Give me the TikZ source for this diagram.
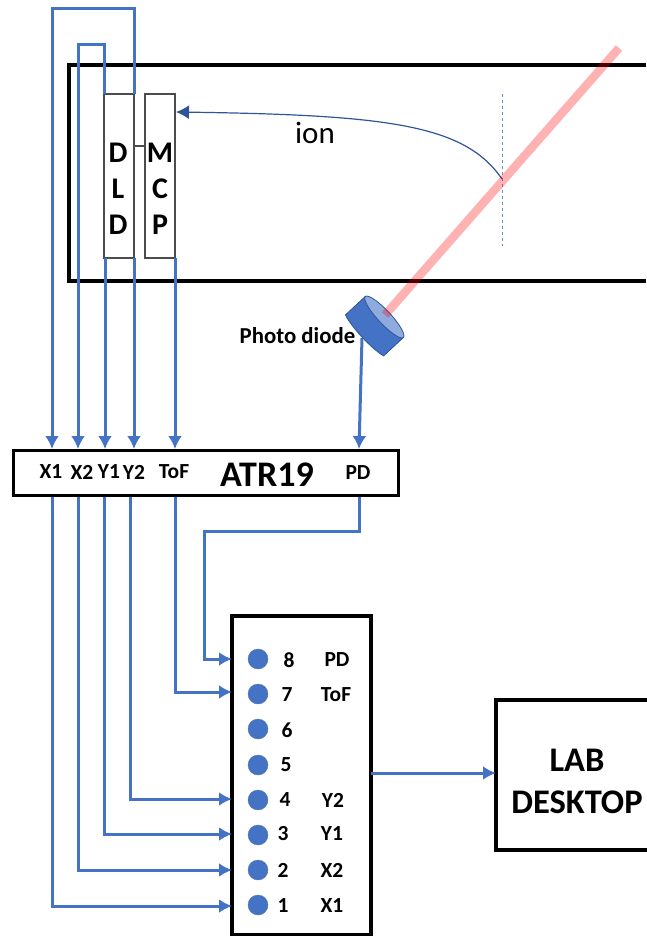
\documentclass[tikz,border=0pt]{standalone}
\usepackage{fontspec}
\setmainfont{Carlito}
\usetikzlibrary{arrows.meta}
\definecolor{wireblue}{HTML}{4472C4}
\definecolor{iondark}{HTML}{2F5597}
\tikzset{
    >={Latex[length=13pt,width=14pt]},
    wire/.style={draw=wireblue, line width=3pt},
    housing/.style={draw=black, line width=4pt},
    detector/.style={draw=black!70, line width=1.3pt, minimum width=30pt, minimum height=164pt, outer sep=0pt, inner sep=0pt},
    detname/.style={align=center, inner sep=0pt, font=\bfseries\fontsize{30}{36}\selectfont},
    bigbox/.style={draw=black, line width=3.8pt, outer sep=0pt},
    port/.style={font=\bfseries\fontsize{21.5}{22}\selectfont, inner sep=0pt},
    pin/.style={circle, draw=iondark!80, fill=wireblue, minimum size=20pt, inner sep=0pt},
}
\begin{document}
\begin{tikzpicture}[x=1pt, y=-1pt]
    \useasboundingbox (0,0) rectangle (646,936);
    % vacuum chamber
    \draw[housing] (646,65) -- (69,65) -- (69,281) -- (646,281);
    \node[detector] (dld) at (119,176) {};
    \node[detector] (mcp) at (160,176) {};
    \node[detname] (dldname) at (118,189) {D\\L\\D};
    \node[detname] (mcpname) at (160,189) {M\\C\\P};
    \draw[black!70, line width=1.3pt] (dld.east |- 0,146) -- (mcp.west |- 0,146);
    % ion path
    \coordinate (focus) at (502,179);
    \coordinate (gridtop) at (502,94);
    \coordinate (gridend) at (502,246);
    \coordinate (iontip) at (176,112);
    \draw[wireblue!80, line width=1pt, dashed] (gridtop) -- (gridend);
    \draw[iondark, line width=1.2pt, <-] (iontip) .. controls (390,115) and (465,125) .. (focus);
    \node[font=\fontsize{31}{31}\selectfont, inner sep=0pt] (ion) at (315,133) {ion};
    % ATR19
    \node[bigbox, minimum width=385pt, minimum height=45pt] (atr) at (206,473) {};
    \node[port] (x1) at (51,472) {X1};
    \node[port] (x2) at (82,472) {X2};
    \node[port] (y1) at (109,472) {Y1};
    \node[port] (y2) at (134,472) {Y2};
    \node[port] (tof) at (174,472) {ToF};
    \node[port] (pd) at (358,473) {PD};
    \node[font=\bfseries\fontsize{36}{36}\selectfont, inner sep=0pt] (atrname) at (267,475) {ATR19};
    % digitizer
    \node[bigbox, minimum width=139pt, minimum height=319pt] (card) at (301.5,775.5) {};
    \node[pin] (p8) at (258,659) {};
    \node[pin] (p7) at (258,694) {};
    \node[pin] (p6) at (258,729) {};
    \node[pin] (p5) at (258,765) {};
    \node[pin] (p4) at (258,800) {};
    \node[pin] (p3) at (258,835) {};
    \node[pin] (p2) at (258,870) {};
    \node[pin] (p1) at (258,905) {};
    \node[port] (n8) at (289,660) {8};
    \node[port] (n7) at (287,695) {7};
    \node[port] (n6) at (287,730) {6};
    \node[port] (n5) at (286,765) {5};
    \node[port] (n4) at (285,800) {4};
    \node[port] (n3) at (283,834) {3};
    \node[port] (n2) at (283,870) {2};
    \node[port] (n1) at (283,906) {1};
    \node[port] (lpd) at (337,660) {PD};
    \node[port] (ltof) at (336,695) {ToF};
    \node[port] (ly2) at (333,800) {Y2};
    \node[port] (ly1) at (332,834) {Y1};
    \node[port] (lx2) at (332,870) {X2};
    \node[port] (lx1) at (332,906) {X1};
    % desktop
    \node[bigbox, minimum width=170pt, minimum height=150pt] (desk) at (581,775) {};
    \node[align=center, inner sep=0pt, font=\bfseries\fontsize{34.5}{42}\selectfont] (deskname) at (577,781) {LAB\\DESKTOP};
    % DLD and MCP to ATR19
    \coordinate (outer) at (52,9);
    \coordinate (inner) at (78,45);
    \coordinate (y1top) at (105,258);
    \coordinate (y2top) at (134,258);
    \coordinate (in1) at (52,449);
    \coordinate (in2) at (78,449);
    \coordinate (in3) at (105,449);
    \coordinate (in4) at (134,449);
    \coordinate (in5) at (175,449);
    \coordinate (in6) at (359,449);
    \coordinate (diodeout) at (362,338);
    \draw[wire, ->] (dld.north east) |- (outer) -- (in1);
    \draw[wire, ->] (dld.north west) |- (inner) -- (in2);
    \draw[wire, ->] (y1top) -- (in3);
    \draw[wire, ->] (y2top) -- (in4);
    \draw[wire, ->] (mcp.south east) -- (in5);
    \draw[wire, ->] (diodeout) -- (in6);
    % ATR19 to digitizer
    \coordinate (out1) at (52,497);
    \coordinate (out2) at (78,497);
    \coordinate (out3) at (104,497);
    \coordinate (out4) at (130,497);
    \coordinate (out5) at (175,497);
    \coordinate (out6) at (359,497);
    \coordinate (pdturn) at (204,531);
    \draw[wire, ->] (out1) |- (card.west |- 0,906);
    \draw[wire, ->] (out2) |- (card.west |- 0,870);
    \draw[wire, ->] (out3) |- (card.west |- 0,834);
    \draw[wire, ->] (out4) |- (card.west |- 0,799);
    \draw[wire, ->] (out5) |- (card.west |- 0,692);
    \draw[wire, ->] (out6) |- (pdturn) |- (card.west |- 0,659);
    % digitizer to desktop
    \draw[wire, ->] (card.east |- 0,773) -- (desk.west |- 0,773);
    % photo diode
    \begin{scope}[shift={(384.3,317)}, rotate=-47]
        \draw[iondark, line width=.8pt, fill=wireblue] (-28,0) -- (-28,27) .. controls (-15,31) and (15,31) .. (28,27) -- (28,0) -- cycle;
        \draw[iondark, line width=.8pt, fill=wireblue!60] (0,0) ellipse [x radius=28, y radius=6.5];
    \end{scope}
    \coordinate (laserend) at (619,48);
    \coordinate (laserfoot) at (385,315);
    \draw[red, opacity=.3, line width=8.5pt] (laserend) -- (laserfoot);
    \node[font=\bfseries\fontsize{22.8}{23}\selectfont, inner sep=0pt] (diodelabel) at (297.5,336) {Photo diode};
\end{tikzpicture}
\end{document}
